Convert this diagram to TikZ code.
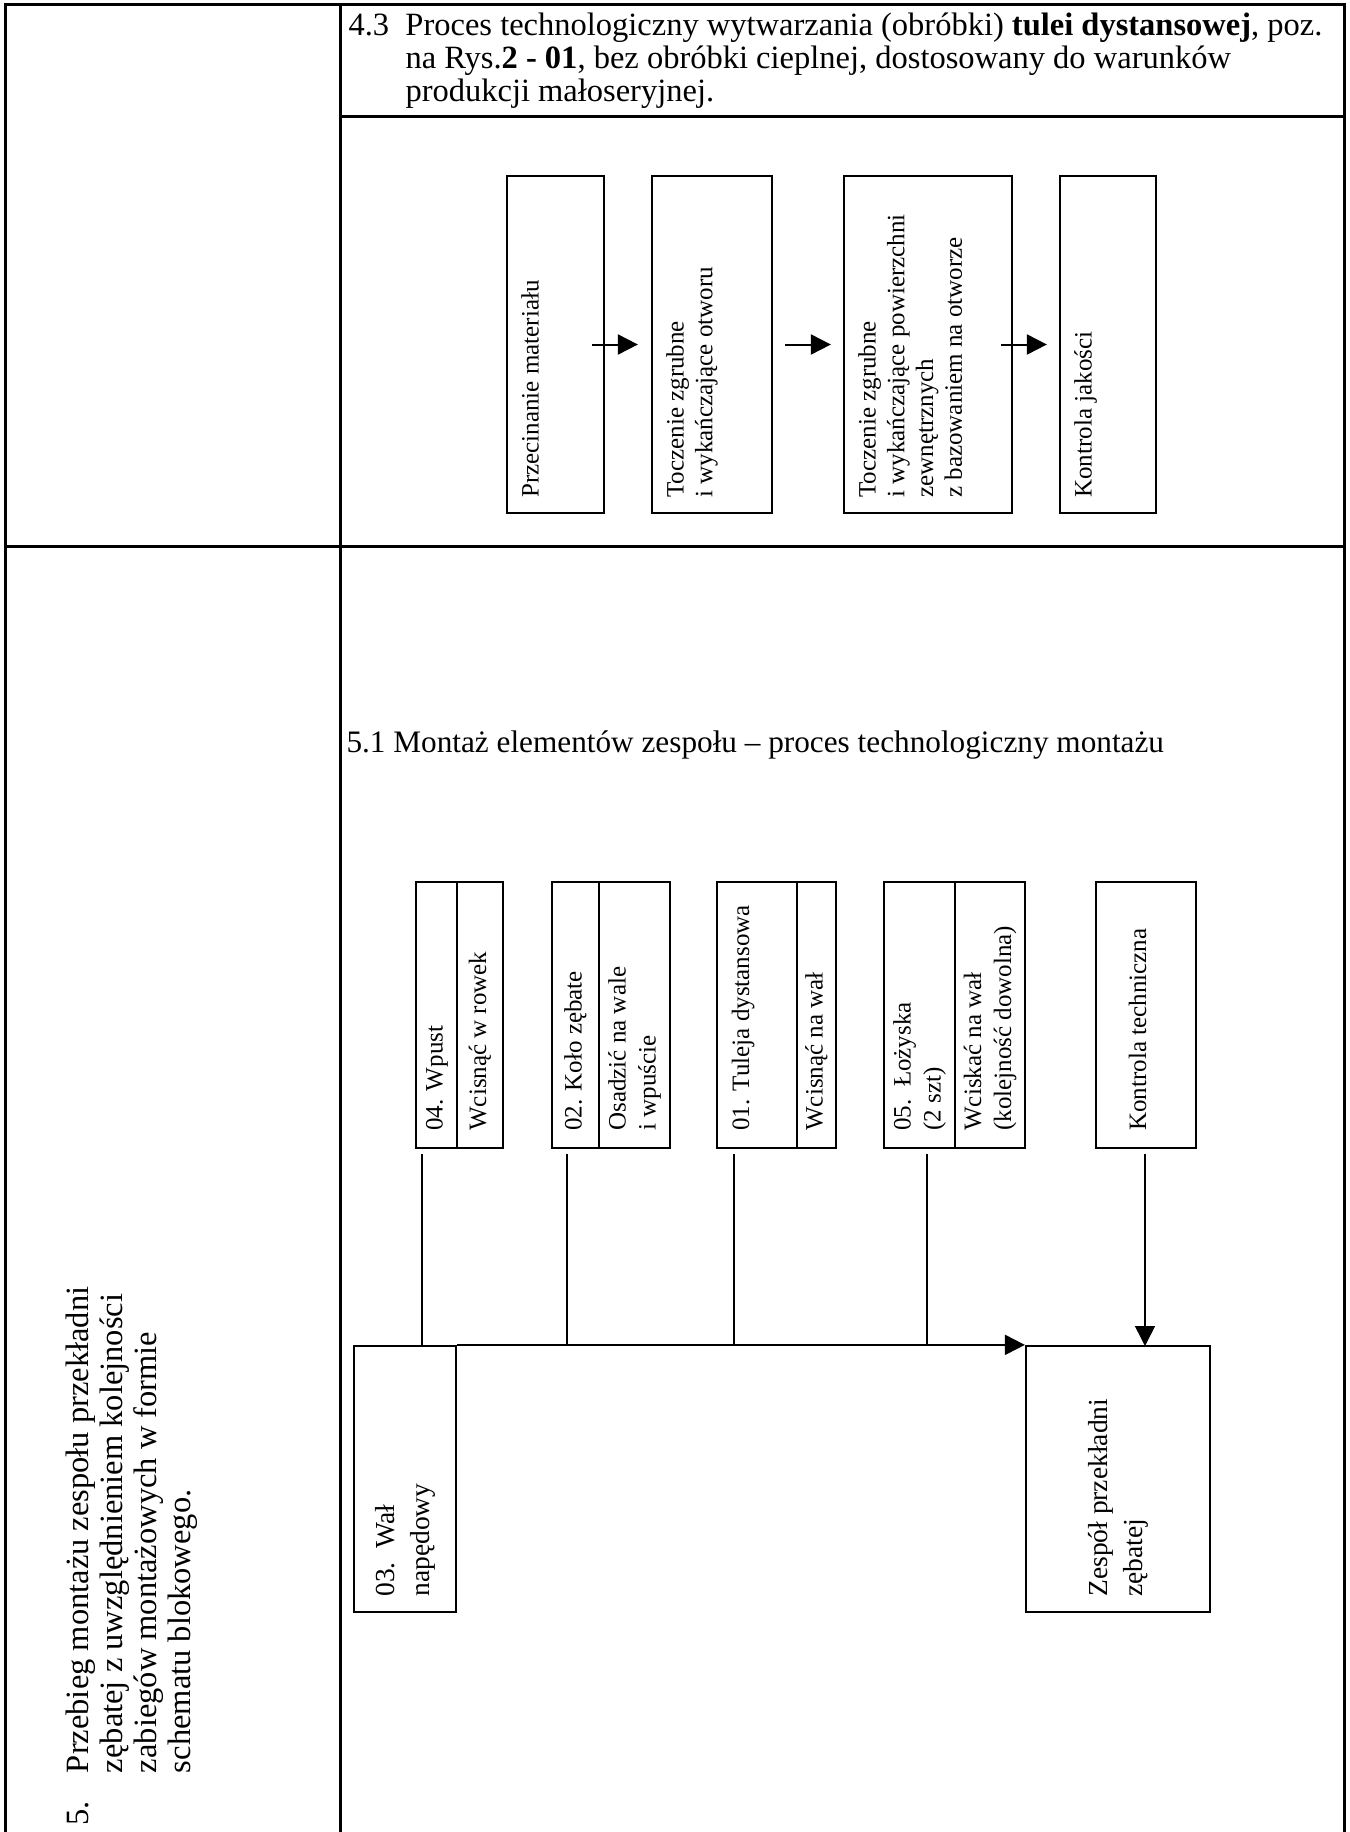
\documentclass[tikz,border=0pt]{standalone}
\usepackage{fontspec}
\setmainfont{Liberation Serif}
\usetikzlibrary{arrows.meta,calc}
\tikzset{
  frame/.style={line width=1.2pt},
  big/.style={inner sep=0pt,font=\fontsize{12.5}{13.6}\selectfont},
  stepbox/.style={draw,line width=0.9pt,rectangle,inner sep=0pt,minimum height=134.8pt},
  steptxt/.style={rotate=90,anchor=north west,inner sep=0pt,font=\fontsize{10}{11.5}\selectfont},
  asmbox/.style={draw,line width=0.9pt,rectangle,inner sep=0pt,minimum height=106.4pt},
  asmtxt/.style={rotate=90,anchor=west,inner sep=0pt,font=\fontsize{10}{12}\selectfont},
  endtxt/.style={rotate=90,anchor=west,inner sep=0pt,font=\fontsize{11}{14}\selectfont},
  flow/.style={line width=0.8pt,-{Triangle[length=8pt,width=8pt]}},
  link/.style={line width=0.6pt},
}

\begin{document}
\begin{tikzpicture}[x=0.4pt,y=-0.4pt]
  \useasboundingbox (0,0) rectangle (1350,1832);
  \draw[frame] (5.5,1832) -- (5.5,5) -- (1344,5) -- (1344,1832);
  \draw[frame] (340,5) -- (340,1832);
  \draw[frame] (340,117) -- (1344,117);
  \draw[frame] (5.5,546) -- (1344,546);
  \node[big,anchor=base west,font=\fontsize{13}{13.2}\selectfont] (h43) at (348,36) {\begin{tabular}[t]{@{}l@{}l@{}}
    \makebox[22.8pt][l]{4.3} & Proces technologiczny wytwarzania (obróbki) \textbf{tulei dystansowej}, poz.\\
    & na Rys.\textbf{2 - 01}, bez obróbki cieplnej, dostosowany do warunków\\
    & produkcji małoseryjnej.\end{tabular}};
  \node[big,anchor=base west] (h51) at (346,752) {5.1 Montaż elementów zespołu – proces technologiczny montażu};
  \node[big,rotate=90,anchor=base west,font=\fontsize{13}{13.6}\selectfont] (h5) at (88,1826) {\begin{tabular}[t]{@{}l@{}l@{}}
    \makebox[21pt][l]{5.} & Przebieg montażu zespołu przekładni\\
    & zębatej z uwzględnieniem kolejności\\
    & zabiegów montażowych w formie\\
    & schematu blokowego.\end{tabular}};
  \node[stepbox,minimum width=38.8pt] (p1) at (555.5,344.5) {};
  \node[stepbox,minimum width=48pt] (p2) at (712,344.5) {};
  \node[stepbox,minimum width=67.2pt] (p3) at (928,344.5) {};
  \node[stepbox,minimum width=38.4pt] (p4) at (1108,344.5) {};
  \node[steptxt] (p1t) at ($(p1.south west)+(12,-16)$) {\begin{tabular}[t]{@{}l@{}}Przecinanie materiału\end{tabular}};
  \node[steptxt] (p2t) at ($(p2.south west)+(12,-16)$) {\begin{tabular}[t]{@{}l@{}}Toczenie zgrubne\\ i wykańczające otworu\end{tabular}};
  \node[steptxt] (p3t) at ($(p3.south west)+(12,-16)$) {\begin{tabular}[t]{@{}l@{}}Toczenie zgrubne\\ i wykańczające powierzchni\\ zewnętrznych\\ z bazowaniem na otworze\end{tabular}};
  \node[steptxt] (p4t) at ($(p4.south west)+(12,-16)$) {\begin{tabular}[t]{@{}l@{}}Kontrola jakości\end{tabular}};
  \draw[flow] ($(p1.east)+(-13,0)$) -- ($(p2.west)+(-13,0)$);
  \draw[flow] ($(p2.east)+(12,0)$) -- ($(p3.west)+(-12,0)$);
  \draw[flow] ($(p3.east)+(-12,0)$) -- ($(p4.west)+(-12,0)$);
  \node[asmbox,minimum width=16.4pt] (wpust) at (436.5,1015) {};
  \node[asmbox,minimum width=18.4pt] (wpustop) at (480,1015) {};
  \node[asmbox,minimum width=18.8pt] (kolo) at (575.5,1015) {};
  \node[asmbox,minimum width=28.4pt] (koloop) at (634.5,1015) {};
  \node[asmbox,minimum width=32pt] (tuleja) at (757,1015) {};
  \node[asmbox,minimum width=15.6pt] (tulejaop) at (816.5,1015) {};
  \node[asmbox,minimum width=28.4pt] (lozyska) at (919.5,1015) {};
  \node[asmbox,minimum width=28pt] (lozyskaop) at (990,1015) {};
  \node[asmbox,minimum width=40pt] (kontrola) at (1146,1015) {};
  \node[asmtxt] (wpustt) at ($(wpust.south)+(0,-18)$) {\begin{tabular}{@{}l@{}}04. Wpust\end{tabular}};
  \node[asmtxt] (wpustopt) at ($(wpustop.south)+(0,-18)$) {\begin{tabular}{@{}l@{}}Wcisnąć w rowek\end{tabular}};
  \node[asmtxt] (kolot) at ($(kolo.south)+(0,-18)$) {\begin{tabular}{@{}l@{}}02. Koło zębate\end{tabular}};
  \node[asmtxt] (koloopt) at ($(koloop.south)+(0,-18)$) {\begin{tabular}{@{}l@{}}Osadzić na wale\\ i wpuście\end{tabular}};
  \node[asmtxt] (tulejat) at ($(tuleja.south)+(-14,-18)$) {\begin{tabular}{@{}l@{}}01. Tuleja dystansowa\end{tabular}};
  \node[asmtxt] (tulejaopt) at ($(tulejaop.south)+(0,-18)$) {\begin{tabular}{@{}l@{}}Wcisnąć na wał\end{tabular}};
  \node[asmtxt] (lozyskat) at ($(lozyska.south)+(0,-18)$) {\begin{tabular}{@{}l@{}}05.\enspace Łożyska\\ (2 szt)\end{tabular}};
  \node[asmtxt] (lozyskaopt) at ($(lozyskaop.south)+(0,-18)$) {\begin{tabular}{@{}l@{}}Wciskać na wał\\ (kolejność dowolna)\end{tabular}};
  \node[asmtxt] (kontrolat) at ($(kontrola.south)+(-6,-18)$) {\begin{tabular}{@{}l@{}}Kontrola techniczna\end{tabular}};
  \node[asmbox,minimum width=40.8pt] (wal) at (405,1479) {};
  \node[asmbox,minimum width=73.6pt] (zespol) at (1118,1479) {};
  \node[endtxt] (walt) at ($(wal.south)+(0,-16)$) {\begin{tabular}{@{}l@{}}03.\enspace Wał\\ napędowy\end{tabular}};
  \node[endtxt] (zespolt) at ($(zespol.south)+(0,-16)$) {\begin{tabular}{@{}l@{}}Zespół przekładni\\ zębatej\end{tabular}};
  \coordinate (ja) at (422,1346);
  \coordinate (jb) at (567,1346);
  \coordinate (jc) at (734,1346);
  \coordinate (jd) at (927,1346);
  \coordinate (je) at (1145,1346);
  \draw[link] ($(ja |- wpust.south)+(0,5)$) -- (ja);
  \draw[link] ($(jb |- kolo.south)+(0,5)$) -- (jb);
  \draw[link] ($(jc |- tuleja.south)+(0,5)$) -- (jc);
  \draw[link] ($(jd |- lozyska.south)+(0,5)$) -- (jd);
  \draw[flow,line width=0.6pt] ($(je |- kontrola.south)+(0,5)$) -- (je);
  \draw[flow] (wal.north east) -- (zespol.north west);
\end{tikzpicture}
\end{document}
